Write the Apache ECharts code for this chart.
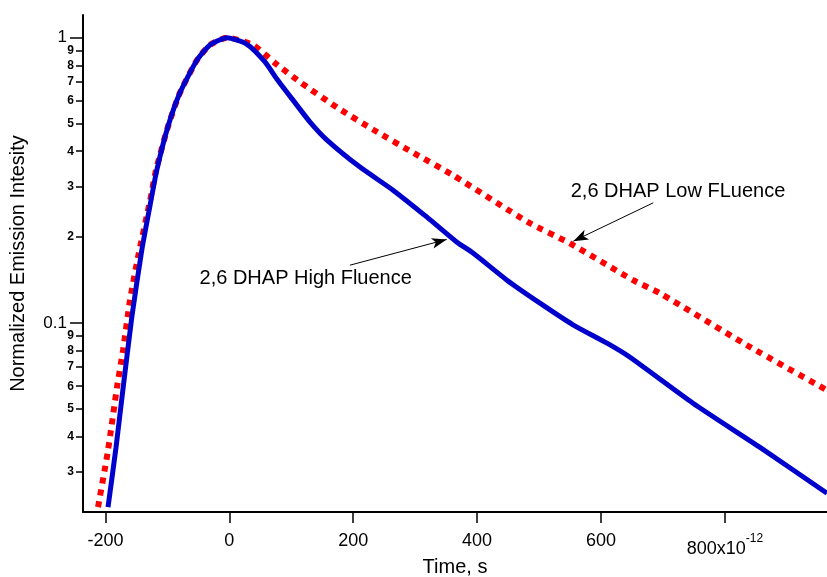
<!DOCTYPE html>
<html>
<head>
<meta charset="utf-8">
<script src="https://cdn.jsdelivr.net/npm/echarts@6/dist/echarts.min.js"></script>
<style>html,body{margin:0;padding:0;background:#fff}#c{width:827px;height:577px}</style>
</head>
<body>
<div id="c"></div>
<script>
// ---- data (time in ps, normalized intensity) ----
const timeHigh = [-195.8,-182.9,-171.9,-157.4,-141.3,-128,-117.1,-99.3,-79.9,-52.1,-31.2,-3.7,28.6,57.6,77.0,102.8,130.3,157.7,210.9,264.2,319.1,367.5,393.4,448.2,501.5,554.8,609.7,646.8,748.5,856.7,964.8];
const valHigh  = [0.0226,0.0366,0.0581,0.1047,0.180,0.258,0.343,0.486,0.640,0.835,0.943,1.0,0.948,0.822,0.715,0.604,0.506,0.4376,0.3518,0.2921,0.2349,0.1919,0.1757,0.1412,0.1173,0.0985,0.0849,0.0758,0.0523,0.0366,0.0253];
const timeLow  = [-211.9,-195.8,-181.3,-171.6,-160.3,-147.4,-127.8,-118.3,-99.3,-79.9,-52.1,-31.2,-3.7,38.2,73.8,114.1,175.2,233.3,297.9,360.8,482.2,550,651.9,695.3,835.7,964.8];
const valLow   = [0.0226,0.0358,0.0595,0.0802,0.1201,0.170,0.2695,0.3434,0.486,0.640,0.835,0.943,1.0,0.943,0.815,0.699,0.567,0.4745,0.3938,0.3298,0.2256,0.190,0.1412,0.127,0.0835,0.0581];
const xTicks = [-200,0,200,400,600,800];
const yMajorTicks = [0.1,1];
const yMinorTicks = [0.03,0.04,0.05,0.06,0.07,0.08,0.09,0.2,0.3,0.4,0.5,0.6,0.7,0.8,0.9];
const labelHigh = '2,6 DHAP High Fluence';
const labelLow = '2,6 DHAP Low FLuence';
const labelHighPos = [123.3, 0.1435];
const labelLowPos = [724.3, 0.2882];
const arrowHigh = [[194.8, 0.1594],[350.9, 0.1962]];
const arrowLow = [[684.4, 0.2637],[555.3, 0.1935]];

const FONT = 'Liberation Sans, Arial, sans-serif';
const chart = echarts.init(document.getElementById('c'));
const axisColor = '#000';

function lead(v){ const p = Math.floor(Math.log10(v)+1e-9); return String(Math.round(v/Math.pow(10,p))); }

const baseY = {
  type:'log', logBase:10, min:0.02173, max:1.201, position:'left',
  splitLine:{show:false}, minorTick:{show:false}, minorSplitLine:{show:false}
};

const option = {
  animation:false,
  backgroundColor:'#fff',
  grid:{left:83, right:0, top:15, bottom:65, containLabel:false, outerBoundsMode:'none'},
  xAxis:{
    type:'value', min:-236.2, max:964.8,
    name:'Time, s', nameLocation:'middle', nameGap:45, nameMoveOverlap:false,
    nameTextStyle:{fontFamily:FONT, fontSize:20, color:'#000'},
    axisLine:{show:true, onZero:false, lineStyle:{color:axisColor, width:2}},
    axisTick:{show:true, inside:false, length:11, customValues:xTicks, lineStyle:{color:axisColor, width:1.5}},
    splitLine:{show:false},
    axisLabel:{
      customValues:xTicks, margin:20, color:'#000', fontFamily:FONT, fontSize:18,
      formatter:function(v){ return v===800 ? '{a|800x10}{s|-12}' : String(v); },
      rich:{
        a:{fontFamily:FONT, fontSize:18, color:'#000', padding:[8,0,0,0]},
        s:{fontFamily:FONT, fontSize:12, color:'#000', padding:[0,0,12,0]}
      }
    }
  },
  yAxis:[
    Object.assign({}, baseY, {
      name:'Normalized Emission Intesity', nameLocation:'middle', nameGap:55, nameMoveOverlap:false,
      nameTextStyle:{fontFamily:FONT, fontSize:20, color:'#000'},
      axisLine:{show:true, onZero:false, lineStyle:{color:axisColor, width:2}},
      axisTick:{show:true, inside:false, length:7, customValues:yMinorTicks, lineStyle:{color:axisColor, width:1.5}},
      axisLabel:{customValues:yMinorTicks, margin:9, fontFamily:FONT, fontSize:12, fontWeight:'bold', color:'#000', formatter:lead}
    }),
    Object.assign({}, baseY, {
      axisLine:{show:false, onZero:false},
      axisTick:{show:true, inside:false, length:13, customValues:yMajorTicks, lineStyle:{color:axisColor, width:1.5}},
      axisLabel:{customValues:yMajorTicks, margin:16, fontFamily:FONT, fontSize:17, color:'#000',
        formatter:function(v){ return v>=0.5 ? '1' : '0.1'; }}
    })
  ],
  series:[
    {
      type:'line', name:'low', yAxisIndex:0, showSymbol:false, smooth:0.2, z:2,
      data: timeLow.map((t,i)=>[t,valLow[i]]),
      lineStyle:{color:'#ff0000', width:6, type:[6,6]},
      markLine:{silent:true, symbol:['none','arrow'], symbolSize:[8,15],
        label:{show:false}, lineStyle:{color:'#000', width:1, type:'solid'},
        data:[[{coord:arrowLow[0]},{coord:arrowLow[1]}]]},
      markPoint:{symbol:'rect', symbolSize:1, itemStyle:{color:'rgba(0,0,0,0)'},
        label:{show:true, position:'inside', formatter:labelLow, fontFamily:FONT, fontSize:20, color:'#000'},
        data:[{coord:labelLowPos}]}
    },
    {
      type:'line', name:'high', yAxisIndex:0, showSymbol:false, smooth:0.2, z:3,
      data: timeHigh.map((t,i)=>[t,valHigh[i]]),
      lineStyle:{color:'#0000cd', width:5},
      markLine:{silent:true, symbol:['none','arrow'], symbolSize:[8,15],
        label:{show:false}, lineStyle:{color:'#000', width:1, type:'solid'},
        data:[[{coord:arrowHigh[0]},{coord:arrowHigh[1]}]]},
      markPoint:{symbol:'rect', symbolSize:1, itemStyle:{color:'rgba(0,0,0,0)'},
        label:{show:true, position:'inside', formatter:labelHigh, fontFamily:FONT, fontSize:20, color:'#000'},
        data:[{coord:labelHighPos}]}
    }
  ]
};
chart.setOption(option);
</script>
</body>
</html>
